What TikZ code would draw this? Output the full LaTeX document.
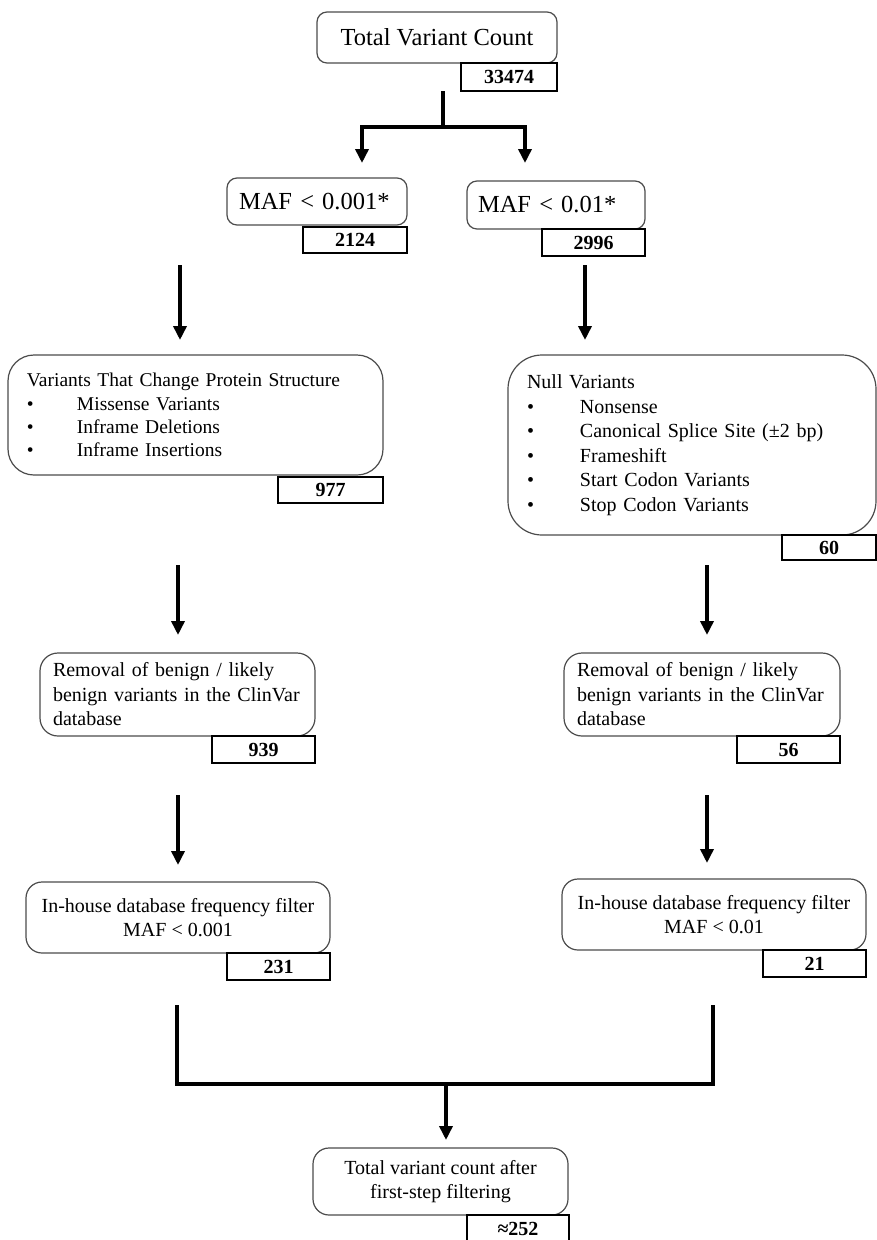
\documentclass[tikz,border=0pt]{standalone}
\usepackage{fontspec}
\setmainfont{Liberation Serif}
\usetikzlibrary{arrows.meta,calc}
\begin{document}
\begin{tikzpicture}[x=1pt,y=-1pt,
  rbox/.style={draw=black!70, line width=1.2pt, rounded corners=#1, fill=white, inner ysep=0pt},
  rbox/.default=10pt,
  nbox/.style={draw=black, line width=2pt, fill=white, inner sep=0pt, font=\fontsize{20}{24}\selectfont\bfseries},
  body/.style={font=\fontsize{20}{24.5}\selectfont},
  big/.style={font=\fontsize{24.5}{28}\selectfont},
  link/.style={line width=4pt},
  arr/.style={line width=3.5pt, -{Triangle[width=13pt,length=14pt]}}
]
\useasboundingbox (0,0) rectangle (877,1240);
\fill[white] (0,0) rectangle (877,1240);

% top
\node[rbox, big, minimum width=240pt, minimum height=51pt, align=center] (tvc) at (437,37.5) {Total Variant Count};
\node[nbox, minimum width=96pt, minimum height=28pt] (n1) at (509,77) {33474};

\node[rbox, big, minimum height=47pt, inner xsep=12pt, text width=156pt, align=left] (mafL) at (317,201.5) {MAF < 0.001*};
\node[nbox, minimum width=104pt, minimum height=26pt] (n2) at (355,240) {2124};
\node[rbox, big, minimum height=48pt, inner xsep=11pt, text width=156pt, align=left] (mafR) at (556,205) {MAF < 0.01*};
\node[nbox, minimum width=103pt, minimum height=27pt] (n3) at (593.5,242.5) {2996};

\coordinate (top1) at (443,91);
\coordinate (split) at (443,127);
\coordinate (tipA) at (362,163);
\coordinate (tipB) at (525,163);
\draw[link] (top1) -- (split);
\draw[arr] (split) -| (tipA);
\draw[arr] (split) -| (tipB);

% second level
\node[rbox=26pt, font=\fontsize{19.5}{23.3}\selectfont, minimum height=120pt, inner xsep=19pt, text width=337pt, align=left] (varL) at (195.5,415)
  {Variants That Change Protein Structure\\
   \makebox[50pt][l]{•}Missense Variants\\
   \makebox[50pt][l]{•}Inframe Deletions\\
   \makebox[50pt][l]{•}Inframe Insertions};
\node[nbox, minimum width=105pt, minimum height=26pt] (n4) at (330.5,490) {977};

\node[rbox=34pt, body, minimum height=180pt, inner xsep=19pt, text width=330pt, align=left] (varR) at (692,445)
  {Null Variants\\
   \makebox[53pt][l]{•}Nonsense\\
   \makebox[53pt][l]{•}Canonical Splice Site (±2 bp)\\
   \makebox[53pt][l]{•}Frameshift\\
   \makebox[53pt][l]{•}Start Codon Variants\\
   \makebox[53pt][l]{•}Stop Codon Variants};
\node[nbox, minimum width=94pt, minimum height=25pt] (n5) at (829,547.5) {60};

\coordinate (a1s) at (180,265); \coordinate (a1e) at (180,340);
\coordinate (a2s) at (585,265); \coordinate (a2e) at (585,340);
\draw[arr] (a1s) -- (a1e);
\draw[arr] (a2s) -- (a2e);

% third level
\node[rbox=18pt, body, minimum height=83pt, inner xsep=13pt, text width=249pt, align=left] (remL) at (177.5,694.5)
  {Removal of benign / likely\\benign variants in the ClinVar\\database};
\node[nbox, minimum width=103pt, minimum height=27pt] (n6) at (263.5,749.5) {939};
\node[rbox=18pt, body, minimum height=83pt, inner xsep=13pt, text width=250pt, align=left] (remR) at (702,694.5)
  {Removal of benign / likely\\benign variants in the ClinVar\\database};
\node[nbox, minimum width=103pt, minimum height=27pt] (n7) at (788.5,749.5) {56};

\coordinate (b1s) at (178,565); \coordinate (b1e) at (178,635);
\coordinate (b2s) at (707,565); \coordinate (b2e) at (707,635);
\draw[arr] (b1s) -- (b1e);
\draw[arr] (b2s) -- (b2e);

% fourth level
\node[rbox=16pt, body, minimum width=304pt, minimum height=71pt, align=center] (inL) at (178,917.5)
  {In-house database frequency filter\\MAF < 0.001};
\node[nbox, minimum width=103pt, minimum height=27pt] (n8) at (278.5,966.5) {231};
\node[rbox=16pt, body, minimum width=304pt, minimum height=71pt, align=center] (inR) at (714,914.5)
  {In-house database frequency filter\\MAF < 0.01};
\node[nbox, minimum width=103pt, minimum height=27pt] (n9) at (814.5,963.5) {21};

\coordinate (c1s) at (178,795); \coordinate (c1e) at (178,865);
\coordinate (c2s) at (707,795); \coordinate (c2e) at (707,863);
\draw[arr] (c1s) -- (c1e);
\draw[arr] (c2s) -- (c2e);

% merge
\coordinate (m1) at (177,1005);
\coordinate (m2) at (713,1005);
\coordinate (merge) at (446,1084);
\coordinate (tipF) at (446,1140);
\draw[link] (m1) |- (merge) -| (m2);
\draw[arr] (merge) -- (tipF);

\node[rbox=16pt, body, minimum width=255pt, minimum height=67pt, align=center] (final) at (440.5,1181.5)
  {Total variant count after\\first-step filtering};
\node[nbox, minimum width=102pt, minimum height=28pt] (n10) at (518,1229) {≈252};
\end{tikzpicture}
\end{document}
